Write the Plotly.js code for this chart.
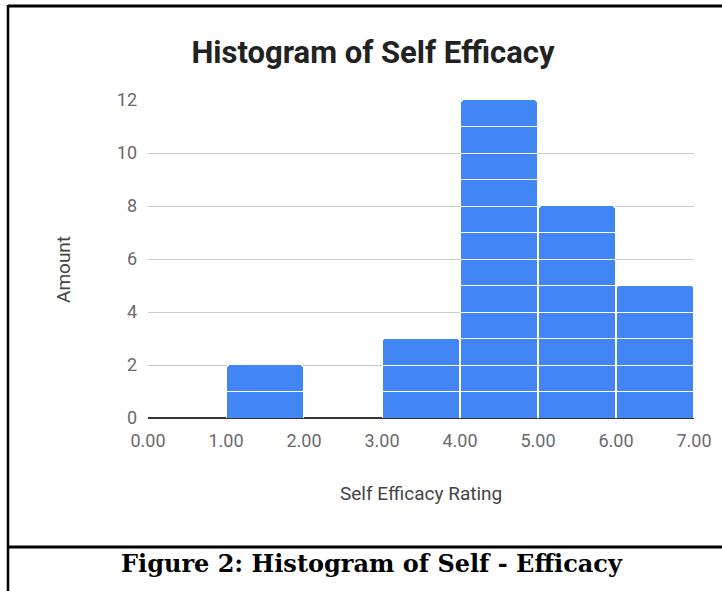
<!DOCTYPE html>
<html>
<head>
<meta charset="utf-8">
<script src="https://cdn.plot.ly/plotly-3.0.1.min.js"></script>
<style>
html,body{margin:0;padding:0;background:#fff;}
#chart{width:722px;height:591px;}
</style>
</head>
<body>
<div id="chart"></div>
<script>
// Data
const binStarts = [0, 1, 2, 3, 4, 5, 6];
const binWidth = 1;
const counts = [0, 2, 0, 3, 12, 8, 5];
const xTickVals = [0, 1, 2, 3, 4, 5, 6, 7];
const yTickVals = [0, 2, 4, 6, 8, 10, 12];
const chartTitle = "Histogram of Self Efficacy";
const xTitle = "Self Efficacy Rating";
const yTitle = "Amount";
const caption = "Figure 2: Histogram of Self - Efficacy";

// plot area geometry (pixels)
const L = 148, R = 694, T = 100, B = 418, W = 722, H = 591;
const xp = px => (px - L) / (R - L);
const yp = py => (B - py) / (B - T);

const centers = binStarts.map(s => s + binWidth / 2);
const maxCount = Math.max(...counts);
const traces = [];
for (let k = 1; k <= maxCount; k++) {
  traces.push({
    type: 'bar',
    x: centers,
    y: counts.map(c => (c >= k ? 1 : null)),
    width: binWidth * 0.975,
    marker: {color: '#4285f4', line: {color: '#ffffff', width: 1}},
    hoverinfo: 'skip',
    showlegend: false
  });
}

const layout = {
  width: W, height: H,
  margin: {l: L, r: W - R, t: T, b: H - B, pad: 0},
  paper_bgcolor: '#fff', plot_bgcolor: '#fff',
  barmode: 'stack',
  bargap: 0,
  barcornerradius: 3,
  showlegend: false,
  title: {
    text: '<b>' + chartTitle + '</b>',
    font: {family: 'Roboto', size: 31, color: '#222'},
    x: 373 / W, xref: 'container', xanchor: 'center',
    y: 1 - 52 / H, yref: 'container', yanchor: 'middle'
  },
  xaxis: {
    range: [0, 7], tickvals: xTickVals, tickformat: '.2f',
    showgrid: false, zeroline: false, showline: false, ticks: '',
    tickfont: {family: 'Roboto', size: 18, color: '#6a6a6a'},
    ticklabelstandoff: 10, fixedrange: true
  },
  yaxis: {
    range: [0, 12], tickvals: yTickVals,
    showgrid: true, gridcolor: '#cccccc', gridwidth: 1,
    zeroline: true, zerolinecolor: '#333', zerolinewidth: 1.5,
    showline: false, ticks: '',
    tickfont: {family: 'Roboto', size: 18, color: '#6a6a6a'},
    ticklabelstandoff: 10, fixedrange: true
  },
  annotations: [
    {text: xTitle, xref: 'paper', yref: 'paper', x: xp(421), y: yp(493),
     xanchor: 'center', yanchor: 'middle', showarrow: false,
     font: {family: 'Roboto', size: 19, color: '#444'}},
    {text: yTitle, xref: 'paper', yref: 'paper', x: xp(63), y: yp(270),
     xanchor: 'center', yanchor: 'middle', showarrow: false, textangle: -90,
     font: {family: 'Roboto', size: 19, color: '#444'}},
    {text: '<b>' + caption + '</b>', xref: 'paper', yref: 'paper', x: xp(372), y: yp(563),
     xanchor: 'center', yanchor: 'middle', showarrow: false,
     font: {family: 'DejaVu Serif', size: 24, color: '#000'}}
  ],
  shapes: [
    {type: 'line', xref: 'paper', yref: 'paper', x0: xp(8), x1: xp(722), y0: yp(6), y1: yp(6), line: {color: '#000', width: 3}},
    {type: 'line', xref: 'paper', yref: 'paper', x0: xp(8), x1: xp(8), y0: yp(5), y1: yp(591), line: {color: '#000', width: 2.5}},
    {type: 'line', xref: 'paper', yref: 'paper', x0: xp(8), x1: xp(722), y0: yp(547), y1: yp(547), line: {color: '#000', width: 3}}
  ]
};

Plotly.newPlot('chart', traces, layout, {displayModeBar: false, staticPlot: true});
</script>
</body>
</html>
